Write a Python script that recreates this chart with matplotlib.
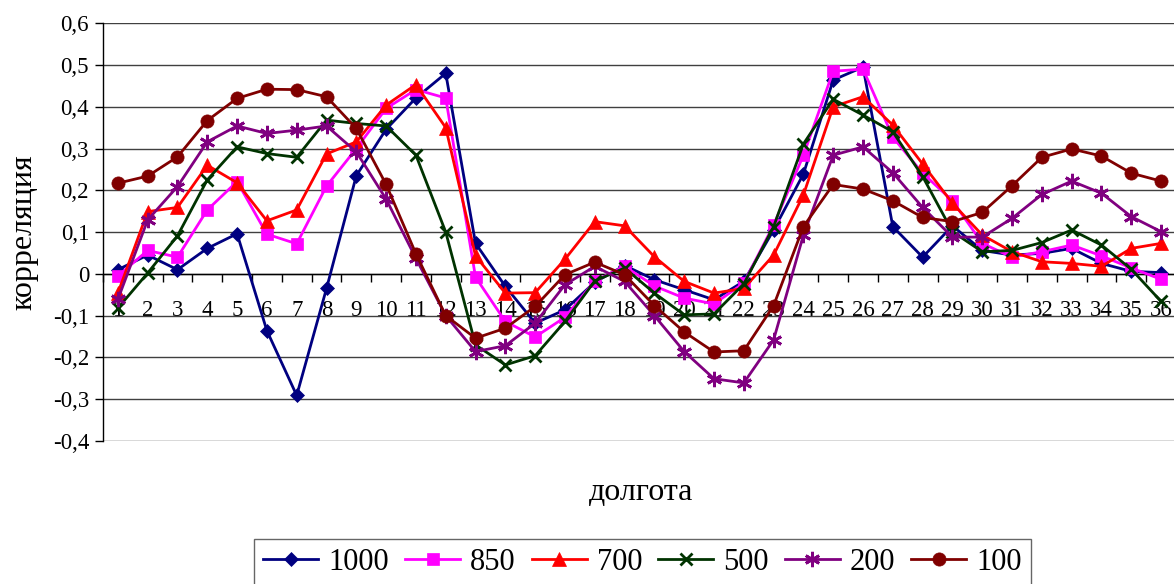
import matplotlib
matplotlib.use("Agg")
import matplotlib.pyplot as plt
from matplotlib.ticker import FixedLocator, FuncFormatter, MultipleLocator

plt.rcParams['font.family'] = ['Liberation Serif', 'DejaVu Serif']

# долгота (categories)
longitude = list(range(1, 37))

# correlation per pressure level
v1000 = [0.01, 0.045, 0.01, 0.061, 0.096, -0.136, -0.291, -0.035, 0.235, 0.346, 0.421, 0.48,
         0.073, -0.03, -0.118, -0.086, -0.02, 0.02, -0.014, -0.038, -0.062, -0.018, 0.105, 0.239,
         0.464, 0.495, 0.113, 0.04, 0.115, 0.056, 0.045, 0.049, 0.061, 0.025, 0.006, 0.003]
v850 = [-0.005, 0.056, 0.04, 0.153, 0.221, 0.095, 0.072, 0.21, 0.3, 0.396, 0.441, 0.421,
        -0.008, -0.114, -0.151, -0.104, -0.017, 0.018, -0.029, -0.058, -0.072, -0.022, 0.117, 0.284,
        0.485, 0.49, 0.327, 0.241, 0.175, 0.073, 0.04, 0.053, 0.069, 0.043, 0.014, -0.013]
v700 = [-0.046, 0.149, 0.159, 0.26, 0.218, 0.127, 0.153, 0.287, 0.316, 0.404, 0.453, 0.35,
        0.043, -0.046, -0.045, 0.035, 0.125, 0.115, 0.041, -0.018, -0.046, -0.035, 0.045, 0.189,
        0.4, 0.424, 0.356, 0.263, 0.169, 0.093, 0.053, 0.029, 0.025, 0.018, 0.061, 0.073]
v500 = [-0.082, 0.002, 0.091, 0.225, 0.304, 0.288, 0.279, 0.368, 0.36, 0.354, 0.284, 0.1,
        -0.17, -0.218, -0.196, -0.114, -0.017, 0.014, -0.046, -0.098, -0.096, -0.024, 0.113, 0.311,
        0.418, 0.38, 0.34, 0.233, 0.101, 0.053, 0.056, 0.075, 0.105, 0.069, 0.011, -0.066]
v200 = [-0.061, 0.129, 0.209, 0.316, 0.354, 0.336, 0.344, 0.354, 0.292, 0.179, 0.037, -0.1,
        -0.186, -0.172, -0.118, -0.026, 0.018, -0.018, -0.1, -0.186, -0.251, -0.261, -0.158, 0.093,
        0.284, 0.304, 0.242, 0.159, 0.088, 0.088, 0.133, 0.19, 0.222, 0.193, 0.137, 0.101]
v100 = [0.217, 0.234, 0.28, 0.367, 0.42, 0.442, 0.441, 0.424, 0.348, 0.214, 0.048, -0.1,
        -0.154, -0.13, -0.078, -0.002, 0.028, -0.002, -0.076, -0.139, -0.187, -0.184, -0.076, 0.113,
        0.214, 0.203, 0.175, 0.135, 0.125, 0.147, 0.211, 0.279, 0.299, 0.282, 0.241, 0.222]

levels = ['1000', '850', '700', '500', '200', '100']
series = [v1000, v850, v700, v500, v200, v100]
colors = ['#000080', '#FF00FF', '#FF0000', '#003300', '#800080', '#800000']
markers = ['D', 's', '^', 'x', '*', 'o']
msizes = [7.5, 9, 9.5, 9, 11, 9.5]

fig = plt.figure(figsize=(11.74, 5.84), dpi=100)
ax = fig.add_axes([0.0877, 0.2449, 0.914, 0.7154])

for name, vals, c, m, ms in zip(levels, series, colors, markers, msizes):
    kw = dict(markeredgewidth=2) if m in ('x', '*') else dict(markeredgewidth=0.5)
    if m == '*':
        # Excel style asterisk
        m = (6, 2, 0)
    ax.plot(longitude, vals, color=c, marker=m, markersize=ms, linewidth=2,
            label=name, zorder=3, clip_on=False, markeredgecolor=c, **kw)

ax.set_xlim(0.5, 36.5)
ax.set_ylim(-0.4, 0.6)

# horizontal gridlines
ax.yaxis.set_major_locator(MultipleLocator(0.1))
ax.grid(axis='y', color='#404040', linewidth=1)
ax.set_axisbelow(True)

def comma_fmt(v, pos):
    s = f"{v:.1f}".replace('.', ',')
    if s in ('0,0', '-0,0'):
        return '0'
    return s

ax.yaxis.set_major_formatter(FuncFormatter(comma_fmt))
ax.tick_params(axis='y', length=6, width=1, labelsize=16.5, direction='out', pad=4)

# category axis at zero
ax.spines['bottom'].set_position(('data', 0))
ax.spines['bottom'].set_linewidth(1)
ax.spines['left'].set_linewidth(1)
ax.spines['top'].set_visible(False)
ax.spines['right'].set_visible(False)
ax.xaxis.set_major_locator(FixedLocator(longitude))
ax.xaxis.set_minor_locator(FixedLocator([x + 0.5 for x in range(0, 37)]))
ax.tick_params(axis='x', which='major', length=0, labelsize=16.5, pad=19)
ax.tick_params(axis='x', which='minor', length=6, width=1, direction='out')

ax.set_ylabel('корреляция', fontsize=23, labelpad=10)
fig.text(0.546, 0.156, 'долгота', fontsize=23, ha='center', va='center')

leg = fig.legend(loc='upper center', bbox_to_anchor=(0.5473, 0.0771), ncol=6,
                 fontsize=22, frameon=True, fancybox=False, edgecolor='#404040',
                 handlelength=1.8, handletextpad=0.33, columnspacing=0.52,
                 borderpad=0.3, borderaxespad=0)
leg.get_frame().set_linewidth(1)

fig.savefig('out.png', dpi=100)
